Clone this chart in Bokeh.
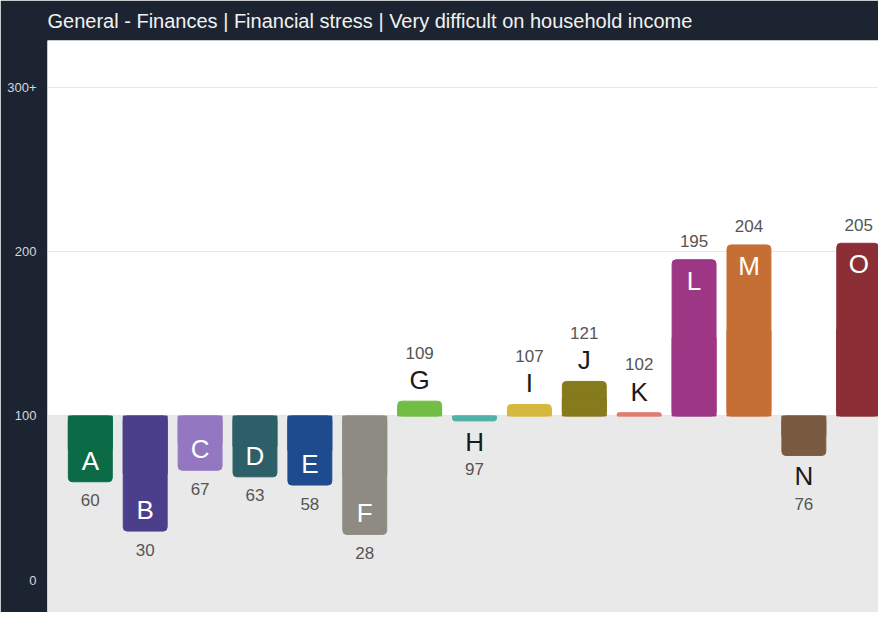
from bokeh.plotting import figure
from bokeh.models import ColumnDataSource, BoxAnnotation, FixedTicker, Range1d
from bokeh.embed import file_html
from bokeh.resources import INLINE
from bokeh.core.properties import value

# ---- data ----
categories = ["A", "B", "C", "D", "E", "F", "G", "H", "I", "J", "K", "L", "M", "N", "O"]
values = [60, 30, 67, 63, 58, 28, 109, 97, 107, 121, 102, 195, 204, 76, 205]
colors = ["#0c6b47", "#4b3f8b", "#9378c1", "#2c5f67", "#1e4b8d", "#8e8c82",
          "#72bd45", "#52b2aa", "#d5b83c", "#857a1c", "#e27c70", "#9d3684",
          "#c66f34", "#7a5a41", "#8b2e35"]
baseline = 100
y_ticks = [0, 100, 200, 300]
y_tick_labels = {300: "300+"}
title_text = "General - Finances | Financial stress | Very difficult on household income"

FONT = "Liberation Sans"
DARK = "#1d2431"

xs = list(range(len(categories)))
mids = [(baseline + v) / 2 for v in values]
up = [v >= baseline for v in values]
inside = [abs(v - baseline) > 30 for v in values]

letter_off = []
letter_col = []
value_off = []
for u, ins in zip(up, inside):
    s = -1 if u else 1  # screen direction away from baseline
    if ins:
        letter_off.append(-s * 21)
        letter_col.append("white")
        value_off.append(s * 18.5)
    else:
        letter_off.append(s * 21)
        letter_col.append("#1a1a1a")
        value_off.append(s * 48.5)

src = ColumnDataSource(dict(
    x=xs, cat=categories, v=values, lab=[str(v) for v in values],
    mid=mids, color=colors, loff=letter_off, lcol=letter_col, voff=value_off,
    base=[baseline] * len(values),
))

p = figure(width=878, height=612, output_backend="svg", toolbar_location=None,
           x_range=Range1d(-0.78, 14.36), y_range=Range1d(-19.5, 328.3),
           min_border_left=47, min_border_right=0, min_border_top=40, min_border_bottom=0)

p.border_fill_color = DARK
p.background_fill_color = "white"
p.outline_line_color = None

p.title.text = title_text
p.title.text_color = "#f2f2f2"
p.title.text_font = FONT
p.title.text_font_size = "20px"
p.title.text_font_style = "normal"
p.title.align = "left"
p.title.vertical_align = "top"
p.title.standoff = 14

p.add_layout(BoxAnnotation(top=baseline, fill_color="#e9e9e9", fill_alpha=1.0,
                           line_color=None, level="underlay"))

p.xaxis.visible = False
p.xgrid.visible = False
p.ygrid.ticker = FixedTicker(ticks=y_ticks)
p.ygrid.grid_line_color = "#e6e6e6"
p.ygrid.level = "underlay"

ya = p.yaxis[0]
ya.ticker = FixedTicker(ticks=y_ticks)
ya.major_label_overrides = y_tick_labels
ya.axis_line_color = None
ya.major_tick_line_color = None
ya.minor_tick_line_color = None
ya.major_label_text_color = "#d3d7df"
ya.major_label_text_font = FONT
ya.major_label_text_font_size = "13px"
ya.major_label_standoff = 5

# rounded bars, plus square cover near the baseline
p.vbar(x="x", width=0.8, bottom="base", top="v", color="color", source=src,
       border_radius=4)
p.vbar(x="x", width=0.8, bottom="base", top="mid", color="color", source=src)

p.text(x="x", y="v", text="cat", source=src, y_offset="loff", text_color="lcol",
       text_align="center", text_baseline="middle", text_font=value(FONT),
       text_font_size="26px")
p.text(x="x", y="v", text="lab", source=src, y_offset="voff", text_color="#555555",
       text_align="center", text_baseline="middle", text_font=value(FONT),
       text_font_size="17px")

open("out.html", "w").write(file_html(p, INLINE))
